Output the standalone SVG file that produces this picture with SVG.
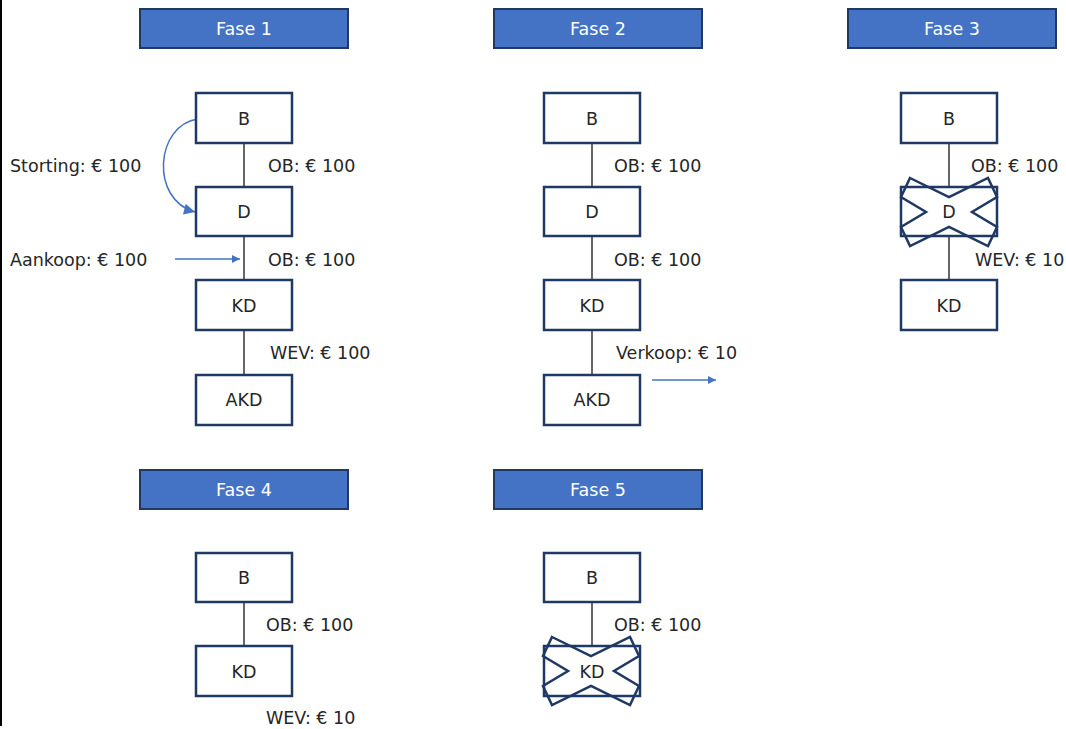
<svg xmlns="http://www.w3.org/2000/svg" width="1066" height="729" viewBox="0 0 1066 729">
<style>
.hdr rect{fill:#4472C4;stroke:#1F3864;stroke-width:2}
.hdr text{fill:#fff;font-family:"DejaVu Sans",Verdana,sans-serif;font-size:17.5px;text-anchor:middle}
.box rect{fill:#fff;stroke:#1F3864;stroke-width:2.5}
.box text,.lbl{fill:#262626;font-family:"DejaVu Sans",Verdana,sans-serif;font-size:17.5px}
.box text{text-anchor:middle}
.cross{fill:none;stroke:#1F3864;stroke-width:2.5;stroke-linejoin:miter}
.ln{stroke:#000;stroke-width:1.2;fill:none}
.arr{stroke:#4472C4;stroke-width:1.5;fill:none}
</style>
<defs>
<marker id="ah" viewBox="0 0 10 10" refX="10" refY="5" markerWidth="10" markerHeight="8" markerUnits="userSpaceOnUse" orient="auto">
<path d="M0,0 L10,5 L0,10 z" fill="#4472C4"/>
</marker>
<marker id="ah2" viewBox="0 0 10 10" refX="10" refY="5" markerWidth="13" markerHeight="11" markerUnits="userSpaceOnUse" orient="auto">
<path d="M0,0 L10,5 L0,10 z" fill="#4472C4"/>
</marker>
<polygon id="xshape" points="-39,-34 0,-15 39,-34 48,-15 23,0 48,15 39,34 0,15 -39,34 -48,15 -23,0 -48,-15"/>
</defs>
<rect width="1066" height="729" fill="#fff"/>
<line x1="1" y1="0" x2="1" y2="726" stroke="#000" stroke-width="2"/>

<g id="connectors">
<line class="ln" x1="244" y1="143" x2="244" y2="187"/>
<line class="ln" x1="244" y1="236" x2="244" y2="280"/>
<line class="ln" x1="244" y1="330" x2="244" y2="375"/>
<line class="ln" x1="592" y1="143" x2="592" y2="187"/>
<line class="ln" x1="592" y1="236" x2="592" y2="280"/>
<line class="ln" x1="592" y1="330" x2="592" y2="375"/>
<line class="ln" x1="949" y1="143" x2="949" y2="187"/>
<line class="ln" x1="949" y1="236" x2="949" y2="280"/>
<line class="ln" x1="244" y1="602" x2="244" y2="646"/>
<line class="ln" x1="592" y1="602" x2="592" y2="646"/>
<path class="arr" d="M198,119 C155,125 150,200 195,212" stroke="#6B90D8" marker-end="url(#ah2)"/>
<line class="arr" x1="175" y1="259" x2="240" y2="259" marker-end="url(#ah)"/>
<line class="arr" x1="652" y1="380" x2="716" y2="380" marker-end="url(#ah)"/>
</g>

<g id="fase1-header" class="hdr"><rect x="140" y="9" width="208" height="39"/><text x="244" y="35">Fase 1</text></g>
<g id="fase2-header" class="hdr"><rect x="494" y="9" width="208" height="39"/><text x="598" y="35">Fase 2</text></g>
<g id="fase3-header" class="hdr"><rect x="848" y="9" width="208" height="39"/><text x="952" y="35">Fase 3</text></g>
<g id="fase4-header" class="hdr"><rect x="140" y="470" width="208" height="39"/><text x="244" y="496">Fase 4</text></g>
<g id="fase5-header" class="hdr"><rect x="494" y="470" width="208" height="39"/><text x="598" y="496">Fase 5</text></g>

<g id="f1-B" class="box"><rect x="196" y="93" width="96" height="50"/><text x="244" y="125">B</text></g>
<g id="f1-D" class="box"><rect x="196" y="187" width="96" height="49"/><text x="244" y="218">D</text></g>
<g id="f1-KD" class="box"><rect x="196" y="280" width="96" height="50"/><text x="244" y="312">KD</text></g>
<g id="f1-AKD" class="box"><rect x="196" y="375" width="96" height="50"/><text x="244" y="406">AKD</text></g>

<g id="f2-B" class="box"><rect x="544" y="93" width="96" height="50"/><text x="592" y="125">B</text></g>
<g id="f2-D" class="box"><rect x="544" y="187" width="96" height="49"/><text x="592" y="218">D</text></g>
<g id="f2-KD" class="box"><rect x="544" y="280" width="96" height="50"/><text x="592" y="312">KD</text></g>
<g id="f2-AKD" class="box"><rect x="544" y="375" width="96" height="50"/><text x="592" y="406">AKD</text></g>

<g id="f3-B" class="box"><rect x="901" y="93" width="96" height="50"/><text x="949" y="125">B</text></g>
<g id="f3-D" class="box"><rect x="901" y="187" width="96" height="49"/><text x="949" y="218">D</text><use href="#xshape" class="cross" transform="translate(949,212)"/></g>
<g id="f3-KD" class="box"><rect x="901" y="280" width="96" height="50"/><text x="949" y="312">KD</text></g>

<g id="f4-B" class="box"><rect x="196" y="553" width="96" height="49"/><text x="244" y="584">B</text></g>
<g id="f4-KD" class="box"><rect x="196" y="646" width="96" height="50"/><text x="244" y="678">KD</text></g>

<g id="f5-B" class="box"><rect x="544" y="553" width="96" height="49"/><text x="592" y="584">B</text></g>
<g id="f5-KD" class="box"><rect x="544" y="646" width="96" height="50"/><text x="592" y="678">KD</text><use href="#xshape" class="cross" transform="translate(591,671)"/></g>

<g id="labels">
<text class="lbl" x="10" y="172">Storting: € 100</text>
<text class="lbl" x="10" y="266">Aankoop: € 100</text>
<text class="lbl" x="268" y="172">OB: € 100</text>
<text class="lbl" x="268" y="266">OB: € 100</text>
<text class="lbl" x="270" y="359">WEV: € 100</text>
<text class="lbl" x="614" y="172">OB: € 100</text>
<text class="lbl" x="614" y="266">OB: € 100</text>
<text class="lbl" x="616" y="359">Verkoop: € 10</text>
<text class="lbl" x="971" y="172">OB: € 100</text>
<text class="lbl" x="975" y="266">WEV: € 10</text>
<text class="lbl" x="266" y="631">OB: € 100</text>
<text class="lbl" x="266" y="724">WEV: € 10</text>
<text class="lbl" x="614" y="631">OB: € 100</text>
</g>
</svg>
